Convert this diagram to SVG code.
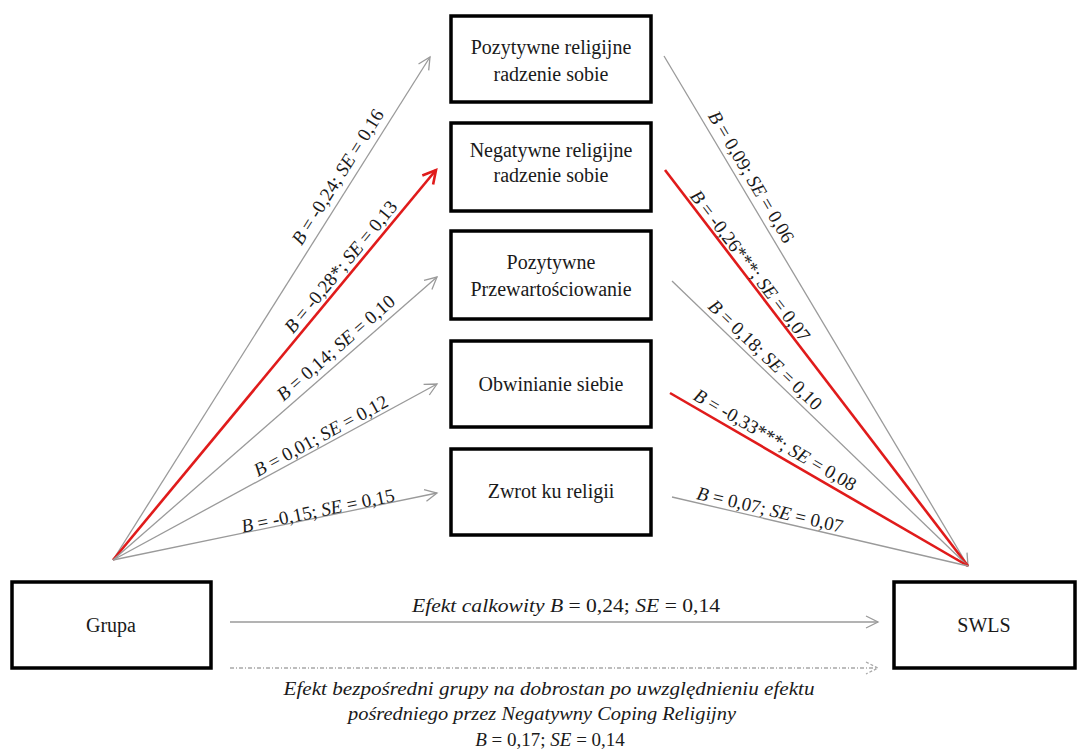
<svg xmlns="http://www.w3.org/2000/svg" width="1078" height="753" viewBox="0 0 1078 753" font-family="Liberation Serif, Tinos, DejaVu Serif, Noto Serif, Times New Roman, Times, serif">
<style>
.box{fill:#fff;stroke:#000;stroke-width:3.5}
text{fill:#1a1a1a;text-anchor:middle}
.nt{font-size:20px}
.lb{font-size:19px}
.it{font-style:italic}
.g{stroke:#9a9a9a;stroke-width:1.3;fill:none}
.r{stroke:#e01b1b;stroke-width:2.6;fill:none}
.dot{stroke:#a8a8a8;stroke-width:1.3;stroke-dasharray:4 2 1 2;fill:none}
</style>
<defs>
<marker id="ag" markerUnits="userSpaceOnUse" markerWidth="16" markerHeight="16" refX="14" refY="8" orient="auto" viewBox="0 0 16 16">
<path d="M2,2 L14,8 L2,14" fill="none" stroke="#9a9a9a" stroke-width="1.3"/>
</marker>
<marker id="ar" markerUnits="userSpaceOnUse" markerWidth="18" markerHeight="18" refX="15" refY="9" orient="auto" viewBox="0 0 18 18">
<path d="M2,2 L15,9 L2,16" fill="none" stroke="#e01b1b" stroke-width="2.6"/>
</marker>
<marker id="ad" markerUnits="userSpaceOnUse" markerWidth="16" markerHeight="16" refX="14" refY="8" orient="auto" viewBox="0 0 16 16">
<path d="M2,2 L14,8 L2,14" fill="none" stroke="#a8a8a8" stroke-width="1.3" stroke-dasharray="3 2"/>
</marker>
</defs>

<g id="connectors">
<line class="g" x1="113" y1="560" x2="430" y2="57" marker-end="url(#ag)"/>
<line class="r" x1="113" y1="560" x2="436" y2="170" marker-end="url(#ar)"/>
<line class="g" x1="113" y1="560" x2="437" y2="277" marker-end="url(#ag)"/>
<line class="g" x1="113" y1="560" x2="437" y2="384" marker-end="url(#ag)"/>
<line class="g" x1="113" y1="560" x2="437" y2="493" marker-end="url(#ag)"/>

<line class="g" x1="664" y1="56" x2="968" y2="566" marker-end="url(#ag)"/>
<line class="r" x1="665" y1="170" x2="968" y2="566"/>
<line class="g" x1="672" y1="281" x2="968" y2="566"/>
<line class="r" x1="670" y1="393" x2="968" y2="566"/>
<line class="g" x1="672" y1="497" x2="968" y2="566"/>

<line class="g" x1="230" y1="622" x2="878" y2="622" marker-end="url(#ag)"/>
<line class="dot" x1="230" y1="668" x2="878" y2="668" marker-end="url(#ad)"/>

<g class="lb">
<text transform="translate(338,177) rotate(-57.8)" y="6"><tspan class="it">B</tspan> = -0,24; <tspan class="it">SE</tspan> = 0,16</text>
<text transform="translate(341,267) rotate(-50.4)" y="6"><tspan class="it">B</tspan> = -0,28*; <tspan class="it">SE</tspan> = 0,13</text>
<text transform="translate(336,348) rotate(-41.1)" y="6"><tspan class="it">B</tspan> = 0,14; <tspan class="it">SE</tspan> = 0,10</text>
<text transform="translate(321,436) rotate(-28.5)" y="6"><tspan class="it">B</tspan> = 0,01; <tspan class="it">SE</tspan> = 0,12</text>
<text transform="translate(318,511) rotate(-11.7)" y="6"><tspan class="it">B</tspan> = -0,15; <tspan class="it">SE</tspan> = 0,15</text>

<text transform="translate(751,177) rotate(59.2)" y="6"><tspan class="it">B</tspan> = 0,09; <tspan class="it">SE</tspan> = 0,06</text>
<text transform="translate(750,266) rotate(52.6)" y="6"><tspan class="it">B</tspan> = -0,26***; <tspan class="it">SE</tspan> = 0,07</text>
<text transform="translate(765,355) rotate(43.9)" y="6"><tspan class="it">B</tspan> = 0,18; <tspan class="it">SE</tspan> = 0,10</text>
<text transform="translate(775,440) rotate(30.1)" y="6"><tspan class="it">B</tspan> = -0,33***; <tspan class="it">SE</tspan> = 0,08</text>
<text transform="translate(770,510) rotate(13.1)" y="6"><tspan class="it">B</tspan> = 0,07; <tspan class="it">SE</tspan> = 0,07</text>

<text x="566" y="612" textLength="308" lengthAdjust="spacingAndGlyphs"><tspan class="it">Efekt calkowity B</tspan> = 0,24; <tspan class="it">SE</tspan> = 0,14</text>
<text x="549" y="695" class="it" textLength="531" lengthAdjust="spacingAndGlyphs">Efekt bezpośredni grupy na dobrostan po uwzględnieniu  efektu</text>
<text x="542" y="720" class="it" textLength="388" lengthAdjust="spacingAndGlyphs">pośredniego  przez Negatywny Coping Religijny</text>
<text x="550" y="746"><tspan class="it">B</tspan> = 0,17; <tspan class="it">SE</tspan> = 0,14</text>
</g>
</g>

<g id="node-pozytywne-religijne">
<rect class="box" x="451" y="16" width="200" height="86"/>
<text class="nt" x="551" y="54">Pozytywne  religijne</text>
<text class="nt" x="551" y="81">radzenie  sobie</text>
</g>
<g id="node-negatywne-religijne">
<rect class="box" x="451" y="123" width="200" height="88"/>
<text class="nt" x="551" y="157">Negatywne  religijne</text>
<text class="nt" x="551" y="182">radzenie  sobie</text>
</g>
<g id="node-pozytywne-przewartosciowanie">
<rect class="box" x="451" y="231" width="200" height="88"/>
<text class="nt" x="551" y="269">Pozytywne</text>
<text class="nt" x="551" y="296">Przewartościowanie</text>
</g>
<g id="node-obwinianie">
<rect class="box" x="451" y="341" width="200" height="86"/>
<text class="nt" x="551" y="391">Obwinianie  siebie</text>
</g>
<g id="node-zwrot">
<rect class="box" x="451" y="449" width="200" height="86"/>
<text class="nt" x="551" y="498">Zwrot ku religii</text>
</g>
<g id="node-grupa">
<rect class="box" x="12" y="582" width="199" height="86"/>
<text class="nt" x="111" y="632">Grupa</text>
</g>
<g id="node-swls">
<rect class="box" x="894" y="582" width="181" height="86"/>
<text class="nt" x="984" y="632">SWLS</text>
</g>
</svg>
